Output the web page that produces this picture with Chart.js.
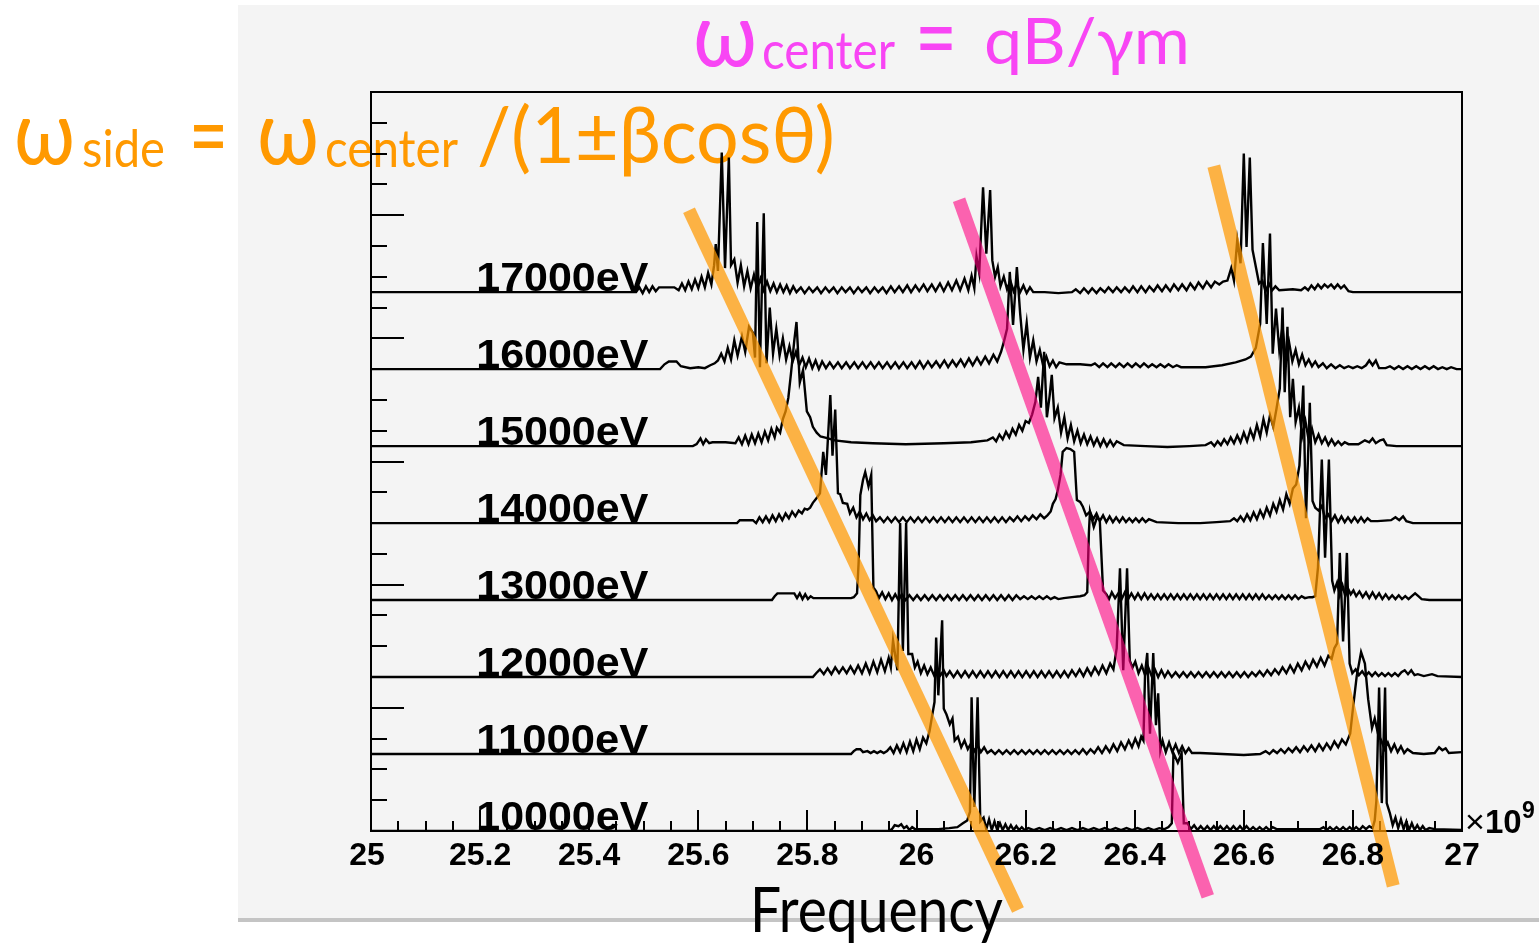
<!DOCTYPE html>
<html lang="en">
<head>
<meta charset="UTF-8">
<title>Frequency spectra</title>
<script src="https://cdn.jsdelivr.net/npm/chart.js@4.4.0/dist/chart.umd.min.js"></script>
<style>
  html, body { margin: 0; padding: 0; background: #fff; }
  #wrap { width: 1539px; height: 946px; position: relative; }
</style>
</head>
<body>
<div id="wrap"><canvas id="spectra"></canvas></div>
<script>
// spectra: [frequency (x10^9), amplitude above the trace baseline]
const s17000 = [[25.000,0],[25.486,0],[25.492,5],[25.498,-1],[25.504,6],[25.510,0],[25.516,6],[25.522,1],[25.528,5],[25.536,5],[25.556,5],[25.564,2],[25.570,9],[25.576,2],[25.582,11],[25.588,3],[25.594,13],[25.600,4],[25.606,16],[25.612,5],[25.618,20],[25.624,8],[25.629,28],[25.632,50],[25.636,22],[25.643,145],[25.649,25],[25.656,140],[25.660,28],[25.666,34],[25.672,10],[25.678,28],[25.684,6],[25.690,22],[25.696,4],[25.702,18],[25.708,3],[25.714,14],[25.720,2],[25.726,11],[25.732,1],[25.738,9],[25.744,0],[25.750,8],[25.756,0],[25.762,7],[25.768,-1],[25.774,6],[25.780,0],[25.788,5],[25.795,-1],[25.803,5],[25.810,0],[25.818,5],[25.825,-1],[25.833,5],[25.840,0],[25.848,5],[25.855,-1],[25.863,5],[25.870,0],[25.878,5],[25.885,-1],[25.893,5],[25.900,0],[25.908,5],[25.915,-1],[25.923,5],[25.930,0],[25.938,5],[25.945,-1],[25.953,6],[25.960,0],[25.968,6],[25.975,0],[25.983,7],[25.990,0],[25.998,7],[26.005,1],[26.013,8],[26.020,1],[26.028,8],[26.035,1],[26.043,9],[26.050,1],[26.058,10],[26.065,2],[26.073,12],[26.080,2],[26.088,14],[26.095,2],[26.101,17],[26.106,4],[26.110,37],[26.115,20],[26.122,109],[26.128,40],[26.135,106],[26.139,33],[26.144,16],[26.149,26],[26.154,6],[26.160,16],[26.166,3],[26.172,12],[26.178,1],[26.184,9],[26.190,0],[26.196,7],[26.202,-1],[26.208,5],[26.214,0],[26.235,0],[26.260,-1],[26.285,0],[26.292,3],[26.300,-1],[26.307,4],[26.315,-1],[26.322,4],[26.330,-1],[26.337,4],[26.345,0],[26.352,5],[26.360,0],[26.367,5],[26.375,0],[26.382,5],[26.390,0],[26.397,6],[26.405,0],[26.412,6],[26.420,0],[26.427,6],[26.435,1],[26.442,7],[26.450,1],[26.457,7],[26.465,1],[26.472,8],[26.480,2],[26.487,8],[26.495,2],[26.502,9],[26.510,3],[26.517,10],[26.525,4],[26.532,11],[26.540,5],[26.547,11],[26.555,8],[26.562,11],[26.570,12],[26.577,25],[26.582,12],[26.588,54],[26.594,30],[26.600,144],[26.605,47],[26.611,140],[26.616,44],[26.628,9],[26.634,12],[26.640,1],[26.646,9],[26.652,2],[26.658,6],[26.665,2],[26.690,3],[26.705,2],[26.712,5],[26.718,2],[26.724,7],[26.730,3],[26.736,8],[26.742,4],[26.748,8],[26.754,5],[26.760,8],[26.766,4],[26.772,8],[26.778,4],[26.784,7],[26.792,1],[26.800,0],[27.000,0]];

const s16000 = [[25.000,0],[25.530,0],[25.538,5],[25.546,8],[25.560,8],[25.568,3],[25.585,1],[25.600,2],[25.612,1],[25.622,4],[25.630,6],[25.636,9],[25.642,16],[25.648,8],[25.654,22],[25.660,10],[25.666,30],[25.672,14],[25.680,34],[25.686,18],[25.693,44],[25.700,38],[25.704,12],[25.708,153],[25.713,2],[25.720,162],[25.725,6],[25.731,64],[25.737,16],[25.743,42],[25.749,14],[25.755,32],[25.761,10],[25.767,24],[25.773,8],[25.779,18],[25.785,4],[25.791,12],[25.797,2],[25.803,11],[25.809,1],[25.815,9],[25.821,0],[25.827,8],[25.834,1],[25.841,7],[25.848,1],[25.856,7],[25.863,1],[25.871,7],[25.878,1],[25.886,7],[25.893,1],[25.901,7],[25.908,1],[25.916,7],[25.923,1],[25.931,7],[25.938,1],[25.946,7],[25.953,1],[25.961,7],[25.968,1],[25.976,7],[25.983,1],[25.991,7],[25.998,1],[26.006,8],[26.013,1],[26.021,8],[26.028,2],[26.036,8],[26.043,2],[26.051,9],[26.058,2],[26.066,9],[26.073,3],[26.081,10],[26.088,3],[26.096,11],[26.103,4],[26.111,12],[26.118,5],[26.126,13],[26.133,6],[26.141,15],[26.148,8],[26.155,18],[26.160,28],[26.166,42],[26.171,101],[26.177,46],[26.184,106],[26.190,58],[26.196,20],[26.202,48],[26.208,12],[26.214,30],[26.220,8],[26.226,20],[26.232,4],[26.238,13],[26.244,3],[26.250,9],[26.256,2],[26.262,7],[26.275,5],[26.300,5],[26.320,4],[26.327,6],[26.335,2],[26.342,6],[26.350,2],[26.357,6],[26.365,2],[26.372,6],[26.380,2],[26.387,6],[26.395,2],[26.402,6],[26.410,2],[26.417,6],[26.425,2],[26.432,5],[26.440,2],[26.447,5],[26.455,2],[26.462,5],[26.470,2],[26.477,4],[26.485,2],[26.500,2],[26.530,2],[26.560,4],[26.585,7],[26.603,10],[26.613,13],[26.622,22],[26.630,47],[26.635,131],[26.642,47],[26.648,141],[26.653,16],[26.659,63],[26.665,20],[26.671,44],[26.677,10],[26.683,28],[26.689,8],[26.695,20],[26.701,5],[26.707,15],[26.713,4],[26.719,10],[26.725,3],[26.731,8],[26.737,2],[26.745,6],[26.752,1],[26.760,5],[26.768,1],[26.776,4],[26.784,1],[26.792,3],[26.800,1],[26.808,3],[26.816,1],[26.824,4],[26.830,9],[26.836,4],[26.842,9],[26.848,1],[26.860,1],[26.868,3],[26.876,0],[26.884,3],[26.892,0],[26.900,3],[26.908,0],[26.916,3],[26.924,0],[26.932,3],[26.940,0],[26.948,3],[26.956,0],[26.964,2],[26.972,0],[26.980,2],[26.990,0],[27.000,0]];

const s15000 = [[25.000,0],[25.590,0],[25.597,2],[25.604,8],[25.609,2],[25.614,7],[25.620,3],[25.626,4],[25.650,4],[25.668,3],[25.674,9],[25.680,2],[25.686,11],[25.692,2],[25.698,12],[25.704,3],[25.710,13],[25.716,4],[25.722,15],[25.728,6],[25.734,18],[25.740,9],[25.744,19],[25.750,14],[25.755,28],[25.760,36],[25.765,50],[25.770,76],[25.776,110],[25.780,129],[25.786,66],[25.792,79],[25.799,36],[25.805,30],[25.810,20],[25.817,14],[25.824,10],[25.831,9],[25.838,8],[25.850,6],[25.880,4],[25.920,3],[25.980,2],[26.050,3],[26.100,4],[26.130,6],[26.140,9],[26.146,5],[26.152,12],[26.158,7],[26.164,15],[26.170,9],[26.176,18],[26.182,12],[26.188,22],[26.194,16],[26.200,26],[26.206,24],[26.212,33],[26.218,46],[26.223,72],[26.228,40],[26.234,98],[26.239,30],[26.244,52],[26.248,74],[26.253,29],[26.259,40],[26.265,14],[26.271,30],[26.277,8],[26.283,22],[26.289,5],[26.295,16],[26.301,3],[26.307,12],[26.313,2],[26.319,10],[26.325,1],[26.331,8],[26.337,0],[26.343,7],[26.349,0],[26.355,6],[26.361,0],[26.367,5],[26.380,1],[26.420,0],[26.460,-1],[26.500,0],[26.530,1],[26.540,4],[26.546,0],[26.552,5],[26.558,1],[26.564,7],[26.570,2],[26.576,9],[26.582,3],[26.588,11],[26.594,4],[26.600,14],[26.606,5],[26.612,17],[26.618,8],[26.624,22],[26.630,10],[26.636,28],[26.642,14],[26.648,32],[26.654,20],[26.660,39],[26.666,60],[26.671,144],[26.675,56],[26.680,124],[26.685,30],[26.690,70],[26.695,25],[26.701,40],[26.707,10],[26.713,26],[26.719,6],[26.725,18],[26.731,4],[26.737,12],[26.743,3],[26.749,9],[26.755,1],[26.761,7],[26.767,1],[26.773,5],[26.779,1],[26.785,4],[26.792,2],[26.810,2],[26.822,6],[26.830,4],[26.836,8],[26.842,3],[26.850,6],[26.856,7],[26.862,1],[26.880,0],[27.000,0]];

const s14000 = [[25.000,0],[25.671,0],[25.676,3],[25.700,3],[25.706,0],[25.712,6],[25.718,1],[25.724,7],[25.730,1],[25.736,8],[25.742,2],[25.748,9],[25.754,3],[25.760,10],[25.766,5],[25.772,12],[25.778,7],[25.784,13],[25.790,10],[25.795,15],[25.800,14],[25.805,16],[25.810,21],[25.817,26],[25.823,31],[25.829,74],[25.834,50],[25.842,133],[25.846,70],[25.851,118],[25.856,31],[25.860,30],[25.865,21],[25.873,20],[25.878,10],[25.884,16],[25.890,6],[25.896,12],[25.902,4],[25.908,10],[25.914,3],[25.920,8],[25.926,2],[25.933,6],[25.940,1],[25.947,6],[25.954,1],[25.961,6],[25.968,1],[25.975,6],[25.982,1],[25.989,6],[25.996,1],[26.003,6],[26.010,1],[26.017,6],[26.024,1],[26.031,6],[26.038,1],[26.045,6],[26.052,1],[26.059,6],[26.066,1],[26.073,6],[26.080,1],[26.087,6],[26.094,1],[26.101,6],[26.108,1],[26.115,6],[26.122,1],[26.129,6],[26.136,1],[26.143,6],[26.150,1],[26.157,6],[26.164,1],[26.171,6],[26.178,2],[26.185,7],[26.192,2],[26.199,7],[26.206,3],[26.213,8],[26.220,4],[26.227,9],[26.234,5],[26.240,8],[26.246,12],[26.250,20],[26.255,25],[26.259,34],[26.264,50],[26.268,74],[26.275,78],[26.282,77],[26.289,74],[26.294,24],[26.300,22],[26.305,17],[26.311,8],[26.318,12],[26.324,4],[26.330,10],[26.336,2],[26.342,8],[26.348,1],[26.354,7],[26.360,1],[26.366,6],[26.372,1],[26.378,6],[26.384,1],[26.390,5],[26.396,1],[26.402,5],[26.408,1],[26.414,5],[26.420,1],[26.426,4],[26.440,1],[26.480,0],[26.520,0],[26.550,1],[26.575,2],[26.582,5],[26.588,2],[26.594,7],[26.600,2],[26.606,9],[26.612,3],[26.618,11],[26.624,4],[26.630,13],[26.636,6],[26.642,16],[26.648,8],[26.654,20],[26.660,12],[26.666,24],[26.672,14],[26.678,30],[26.684,20],[26.690,36],[26.696,40],[26.702,60],[26.709,143],[26.714,5],[26.721,125],[26.726,23],[26.731,16],[26.737,13],[26.743,18],[26.749,5],[26.755,9],[26.761,2],[26.767,8],[26.773,1],[26.779,7],[26.785,1],[26.791,6],[26.797,1],[26.803,6],[26.809,1],[26.815,6],[26.821,1],[26.827,5],[26.833,2],[26.845,2],[26.870,3],[26.878,6],[26.885,3],[26.892,7],[26.898,2],[26.910,0],[27.000,0]];

const s13000 = [[25.000,0],[25.735,0],[25.740,4],[25.745,7],[25.776,7],[25.781,2],[25.786,7],[25.791,1],[25.796,6],[25.801,1],[25.806,4],[25.811,2],[25.880,2],[25.885,3],[25.891,7],[25.894,40],[25.897,109],[25.902,125],[25.906,133],[25.912,118],[25.917,130],[25.921,13],[25.926,9],[25.931,2],[25.937,8],[25.943,1],[25.949,7],[25.955,0],[25.961,6],[25.967,0],[25.973,6],[25.980,0],[25.987,5],[25.994,0],[26.001,5],[26.008,0],[26.015,5],[26.022,0],[26.029,5],[26.036,0],[26.043,5],[26.050,0],[26.057,5],[26.064,0],[26.071,5],[26.078,0],[26.085,5],[26.092,0],[26.099,5],[26.106,0],[26.113,5],[26.120,0],[26.127,5],[26.134,0],[26.141,5],[26.148,0],[26.155,5],[26.162,0],[26.169,5],[26.176,0],[26.183,5],[26.190,1],[26.197,4],[26.204,1],[26.211,4],[26.218,1],[26.225,4],[26.232,1],[26.239,4],[26.246,1],[26.253,3],[26.260,1],[26.270,2],[26.285,3],[26.300,4],[26.308,5],[26.313,8],[26.316,70],[26.318,92],[26.325,76],[26.331,86],[26.336,83],[26.342,10],[26.348,6],[26.353,1],[26.358,8],[26.364,2],[26.370,7],[26.376,1],[26.382,8],[26.388,1],[26.394,7],[26.400,1],[26.406,7],[26.412,1],[26.418,7],[26.424,1],[26.430,6],[26.436,1],[26.442,6],[26.448,1],[26.454,6],[26.460,1],[26.466,6],[26.472,1],[26.478,6],[26.484,1],[26.490,6],[26.496,1],[26.502,6],[26.508,1],[26.514,6],[26.520,1],[26.526,6],[26.532,1],[26.538,6],[26.544,1],[26.550,6],[26.556,1],[26.562,6],[26.568,1],[26.574,6],[26.580,1],[26.586,6],[26.592,1],[26.598,6],[26.604,1],[26.610,6],[26.616,1],[26.622,6],[26.628,1],[26.634,6],[26.640,1],[26.646,5],[26.652,1],[26.658,5],[26.664,1],[26.670,5],[26.676,1],[26.682,5],[26.688,1],[26.694,5],[26.700,1],[26.706,4],[26.712,2],[26.720,3],[26.726,3],[26.731,4],[26.736,34],[26.743,146],[26.749,44],[26.756,146],[26.762,20],[26.766,10],[26.771,18],[26.776,5],[26.781,15],[26.786,4],[26.791,12],[26.796,6],[26.801,10],[26.806,4],[26.812,9],[26.818,3],[26.824,8],[26.830,2],[26.836,8],[26.842,2],[26.848,7],[26.854,1],[26.860,6],[26.866,1],[26.872,5],[26.878,1],[26.884,5],[26.890,1],[26.896,4],[26.902,1],[26.908,4],[26.914,7],[26.920,4],[26.926,1],[26.940,0],[27.000,0]];

const s12000 = [[25.000,0],[25.810,0],[25.816,4],[25.823,8],[25.830,3],[25.837,9],[25.844,3],[25.851,10],[25.858,4],[25.865,10],[25.872,4],[25.879,11],[25.886,4],[25.893,12],[25.900,4],[25.907,14],[25.914,4],[25.921,16],[25.928,5],[25.935,18],[25.942,6],[25.949,20],[25.953,10],[25.957,38],[25.965,7],[25.970,160],[25.975,27],[25.981,160],[25.985,24],[25.992,24],[25.997,10],[26.002,16],[26.008,4],[26.014,12],[26.020,3],[26.026,10],[26.032,2],[26.038,8],[26.044,2],[26.050,7],[26.055,1],[26.061,6],[26.068,0],[26.075,6],[26.082,0],[26.089,6],[26.096,0],[26.103,6],[26.110,0],[26.117,6],[26.124,0],[26.131,6],[26.138,0],[26.145,6],[26.152,0],[26.159,6],[26.166,0],[26.173,6],[26.180,0],[26.187,6],[26.194,0],[26.201,6],[26.208,0],[26.215,6],[26.222,0],[26.229,6],[26.236,0],[26.243,6],[26.250,0],[26.257,6],[26.264,0],[26.271,6],[26.278,0],[26.285,7],[26.292,1],[26.299,8],[26.306,1],[26.313,9],[26.320,2],[26.327,10],[26.334,3],[26.341,12],[26.348,4],[26.355,14],[26.361,8],[26.367,30],[26.373,113],[26.379,7],[26.386,113],[26.391,17],[26.396,10],[26.401,16],[26.407,4],[26.413,12],[26.419,2],[26.425,10],[26.431,1],[26.437,8],[26.443,0],[26.449,7],[26.455,0],[26.461,6],[26.468,0],[26.475,5],[26.482,0],[26.489,5],[26.496,0],[26.503,5],[26.510,0],[26.517,5],[26.524,0],[26.531,5],[26.538,0],[26.545,5],[26.552,0],[26.559,5],[26.566,0],[26.573,5],[26.580,0],[26.587,5],[26.594,0],[26.601,5],[26.608,0],[26.615,5],[26.622,1],[26.629,6],[26.636,1],[26.643,7],[26.650,2],[26.657,8],[26.664,3],[26.671,10],[26.678,4],[26.685,12],[26.692,5],[26.699,14],[26.706,7],[26.713,16],[26.720,9],[26.727,18],[26.734,11],[26.741,20],[26.748,12],[26.755,22],[26.761,19],[26.766,30],[26.771,35],[26.776,129],[26.782,37],[26.789,129],[26.794,14],[26.799,4],[26.805,8],[26.811,2],[26.817,6],[26.823,1],[26.829,5],[26.835,1],[26.841,5],[26.847,1],[26.853,4],[26.859,1],[26.865,4],[26.871,1],[26.877,4],[26.883,1],[26.889,5],[26.895,7],[26.901,3],[26.907,7],[26.913,2],[26.919,3],[26.930,1],[26.945,3],[26.955,1],[27.000,0]];

const s11000 = [[25.000,0],[25.880,0],[25.885,3],[25.890,5],[25.897,5],[25.902,2],[25.910,3],[25.916,1],[25.922,3],[25.928,1],[25.934,3],[25.940,1],[25.946,3],[25.952,7],[25.958,1],[25.964,9],[25.970,2],[25.976,11],[25.982,2],[25.988,13],[25.994,3],[26.000,15],[26.006,5],[26.012,17],[26.018,11],[26.024,24],[26.029,41],[26.033,54],[26.036,121],[26.040,61],[26.047,139],[26.050,47],[26.055,41],[26.061,31],[26.066,37],[26.070,14],[26.076,18],[26.082,7],[26.088,14],[26.094,5],[26.100,11],[26.106,3],[26.112,9],[26.118,2],[26.124,7],[26.130,1],[26.137,4],[26.144,0],[26.151,4],[26.158,0],[26.165,4],[26.172,0],[26.179,4],[26.186,0],[26.193,4],[26.200,0],[26.207,4],[26.214,0],[26.221,4],[26.228,0],[26.235,4],[26.242,0],[26.249,4],[26.256,0],[26.263,4],[26.270,0],[26.277,4],[26.284,0],[26.291,4],[26.298,0],[26.305,5],[26.312,0],[26.319,5],[26.326,1],[26.333,7],[26.340,1],[26.347,8],[26.354,2],[26.361,10],[26.368,3],[26.375,12],[26.382,5],[26.389,14],[26.395,7],[26.401,16],[26.407,8],[26.412,18],[26.416,14],[26.419,84],[26.423,105],[26.428,21],[26.434,105],[26.439,30],[26.443,63],[26.447,4],[26.451,14],[26.457,2],[26.463,12],[26.469,2],[26.475,10],[26.481,1],[26.487,8],[26.493,1],[26.499,6],[26.505,1],[26.520,1],[26.560,0],[26.600,-1],[26.630,0],[26.640,3],[26.647,0],[26.654,4],[26.661,1],[26.668,5],[26.675,1],[26.682,6],[26.689,2],[26.696,7],[26.703,2],[26.710,8],[26.717,3],[26.724,9],[26.731,3],[26.738,10],[26.745,4],[26.752,11],[26.759,5],[26.766,13],[26.773,7],[26.780,15],[26.787,10],[26.795,21],[26.800,47],[26.807,81],[26.815,106],[26.822,94],[26.828,57],[26.835,27],[26.840,37],[26.846,21],[26.852,14],[26.858,5],[26.864,12],[26.870,3],[26.876,10],[26.882,2],[26.888,8],[26.894,1],[26.900,5],[26.910,1],[26.930,0],[26.950,1],[26.958,7],[26.964,4],[26.970,6],[26.976,1],[27.000,2]];

const s10000 = [[25.000,0],[25.950,0],[25.955,2],[25.960,6],[25.967,5],[25.972,7],[25.977,3],[25.982,5],[25.987,1],[25.992,4],[25.997,2],[26.005,2],[26.040,2],[26.060,3],[26.075,4],[26.085,8],[26.093,11],[26.098,20],[26.101,139],[26.106,25],[26.112,139],[26.117,10],[26.123,14],[26.128,2],[26.133,12],[26.138,1],[26.143,10],[26.148,1],[26.153,8],[26.158,1],[26.163,7],[26.168,1],[26.173,6],[26.178,1],[26.183,5],[26.188,1],[26.193,4],[26.198,1],[26.205,3],[26.215,1],[26.225,3],[26.235,1],[26.245,3],[26.255,1],[26.265,3],[26.275,1],[26.285,3],[26.295,1],[26.305,3],[26.315,1],[26.325,3],[26.335,1],[26.345,3],[26.355,1],[26.365,3],[26.375,1],[26.385,3],[26.395,1],[26.405,3],[26.415,1],[26.425,3],[26.435,1],[26.445,3],[26.455,2],[26.462,4],[26.468,8],[26.471,81],[26.479,71],[26.486,81],[26.490,8],[26.497,8],[26.503,2],[26.509,6],[26.515,1],[26.521,5],[26.527,1],[26.533,5],[26.539,1],[26.545,5],[26.551,1],[26.557,5],[26.563,1],[26.569,5],[26.575,1],[26.581,5],[26.587,1],[26.593,5],[26.599,1],[26.605,5],[26.611,1],[26.617,4],[26.623,1],[26.629,4],[26.635,1],[26.641,4],[26.647,1],[26.653,4],[26.660,2],[26.700,2],[26.740,2],[26.746,4],[26.752,1],[26.758,4],[26.764,1],[26.770,4],[26.776,1],[26.782,4],[26.788,1],[26.794,4],[26.800,1],[26.806,4],[26.812,1],[26.818,5],[26.824,2],[26.830,5],[26.836,3],[26.840,11],[26.843,31],[26.848,149],[26.853,29],[26.859,149],[26.862,29],[26.868,18],[26.873,6],[26.878,14],[26.883,3],[26.888,12],[26.893,2],[26.898,10],[26.903,1],[26.908,8],[26.913,1],[26.918,6],[26.923,1],[26.928,5],[26.933,1],[26.940,3],[26.950,2],[27.000,1]];

// bottom trace first
const traces = [s10000, s11000, s12000, s13000, s14000, s15000, s16000, s17000];
const energyLabels = ['10000eV', '11000eV', '12000eV', '13000eV', '14000eV', '15000eV', '16000eV', '17000eV'];
const traceStep = 80;

// hand-drawn guide lines, [frequency, y] at both ends
const sideGuideLow = [[25.583, 645], [26.186, -82]];
const centerGuide = [[26.078, 656], [26.534, -68]];
const sideGuideHigh = [[26.545, 691], [26.874, -57]];

const xTickLabels = ['25', '25.2', '25.4', '25.6', '25.8', '26', '26.2', '26.4', '26.6', '26.8', '27'];

const ORANGE = '#ff9900';
const MAGENTA = '#f845f4';
const TEXT_FONT = 'Lato, "Noto Sans", "DejaVu Sans", sans-serif';
const BOLD_FONT = '"Liberation Sans", Arial, sans-serif';

function fitText(ctx, str, x, y, font, color, width) {
    ctx.font = font;
    ctx.fillStyle = color;
    ctx.textAlign = 'left';
    ctx.textBaseline = 'alphabetic';
    const w = ctx.measureText(str).width;
    ctx.save();
    ctx.translate(x, y);
    if (width) ctx.scale(width / w, 1);
    ctx.fillText(str, 0, 0);
    ctx.restore();
}

const decor = {
    id: 'decor',
    beforeDraw(chart) {
        const ctx = chart.ctx;
        ctx.save();
        ctx.fillStyle = '#ffffff';
        ctx.fillRect(0, 0, chart.width, chart.height);
        ctx.fillStyle = '#f4f4f4';
        ctx.fillRect(238, 5, chart.width - 238, 913);
        ctx.fillStyle = '#c4c4c4';
        ctx.fillRect(238, 918, chart.width - 238, 4);

        // formulas
        fitText(ctx, 'ω', 14, 164, '90px ' + TEXT_FONT, ORANGE, 61);
        fitText(ctx, 'side', 82, 167, '52px ' + TEXT_FONT, ORANGE, 83);
        fitText(ctx, '=', 189, 169, '96px ' + TEXT_FONT, ORANGE, 39);
        fitText(ctx, 'ω', 257, 164, '90px ' + TEXT_FONT, ORANGE, 62);
        fitText(ctx, 'center', 325, 167, '52px ' + TEXT_FONT, ORANGE, 133);
        fitText(ctx, '/(1±βcosθ)', 477, 163, '78px ' + TEXT_FONT, ORANGE, 358);

        fitText(ctx, 'ω', 693, 66, '90px ' + TEXT_FONT, MAGENTA, 64);
        fitText(ctx, 'center', 762, 69, '52px ' + TEXT_FONT, MAGENTA, 133);
        fitText(ctx, '=', 915, 71, '96px ' + TEXT_FONT, MAGENTA, 42);
        fitText(ctx, 'qB/γm', 984, 64, '64px ' + TEXT_FONT, MAGENTA, 206);
        ctx.restore();
    },
    beforeDatasetsDraw(chart) {
        const ctx = chart.ctx;
        const xs = chart.scales.x, ys = chart.scales.y;
        const a = chart.chartArea;
        ctx.save();
        ctx.strokeStyle = '#000';
        ctx.lineWidth = 2;
        ctx.strokeRect(a.left, a.top, a.right - a.left, a.bottom - a.top);
        ctx.beginPath();
        for (let i = 0; i <= 40; i++) {
            const px = Math.round(xs.getPixelForValue(25 + i * 0.05));
            const len = i % 4 === 0 ? 21 : 10;
            ctx.moveTo(px, a.bottom);
            ctx.lineTo(px, a.bottom - len);
        }
        for (let i = 0; i <= 24; i++) {
            const py = Math.round(ys.getPixelForValue(i * 32));
            const len = i % 4 === 0 ? 33 : 16;
            ctx.moveTo(a.left, py);
            ctx.lineTo(a.left + len, py);
        }
        ctx.stroke();
        ctx.restore();
    },
    afterDraw(chart) {
        const ctx = chart.ctx;
        const xs = chart.scales.x, ys = chart.scales.y;
        const a = chart.chartArea;
        ctx.save();
        // energy labels
        energyLabels.forEach((lab, i) => {
            const px = xs.getPixelForValue(25.193);
            const py = ys.getPixelForValue(i * traceStep) - 1;
            fitText(ctx, lab, px, py, 'bold 41px ' + BOLD_FONT, '#000', 172);
        });
        // x tick labels
        ctx.font = 'bold 32px ' + BOLD_FONT;
        ctx.fillStyle = '#000';
        ctx.textAlign = 'center';
        ctx.textBaseline = 'alphabetic';
        xTickLabels.forEach((lab, i) => {
            const px = xs.getPixelForValue(25 + i * 0.2);
            ctx.fillText(lab, i === 0 ? px - 4 : px, a.bottom + 34);
        });
        ctx.textAlign = 'left';
        ctx.font = '34px ' + BOLD_FONT;
        ctx.fillText('×', a.right + 3, a.bottom + 2);
        ctx.font = 'bold 33px ' + BOLD_FONT;
        ctx.fillText('10', a.right + 23, a.bottom + 2);
        ctx.font = 'bold 23px ' + BOLD_FONT;
        ctx.fillText('9', a.right + 60, a.bottom - 13);
        // axis title
        fitText(ctx, 'Frequency', 750, 932, '62px ' + TEXT_FONT, '#000', 253);
        ctx.restore();
    }
};

const datasets = traces.map((pts, i) => ({
    data: pts.map(p => ({ x: p[0], y: i * traceStep + p[1] })),
    borderColor: '#000000',
    borderWidth: 2.4,
    pointRadius: 0,
    tension: 0,
    order: 2
}));

[[sideGuideLow, 'rgba(255, 152, 0, 0.72)'],
 [centerGuide, 'rgba(255, 0, 128, 0.6)'],
 [sideGuideHigh, 'rgba(255, 152, 0, 0.72)']].forEach(([pts, color]) => {
    datasets.push({
        data: pts.map(p => ({ x: p[0], y: p[1] })),
        borderColor: color,
        borderWidth: 13,
        borderCapStyle: 'butt',
        pointRadius: 0,
        clip: false,
        order: 0
    });
});

new Chart(document.getElementById('spectra'), {
    type: 'line',
    data: { datasets: datasets },
    options: {
        responsive: true,
        maintainAspectRatio: false,
        animation: false,
        events: [],
        layout: { padding: { left: 371, right: 77, top: 92, bottom: 115 } },
        scales: {
            x: { type: 'linear', min: 25, max: 27, display: false },
            y: { type: 'linear', min: 0, max: 768, display: false }
        },
        plugins: {
            legend: { display: false },
            tooltip: { enabled: false }
        }
    },
    plugins: [decor]
});
</script>
</body>
</html>
